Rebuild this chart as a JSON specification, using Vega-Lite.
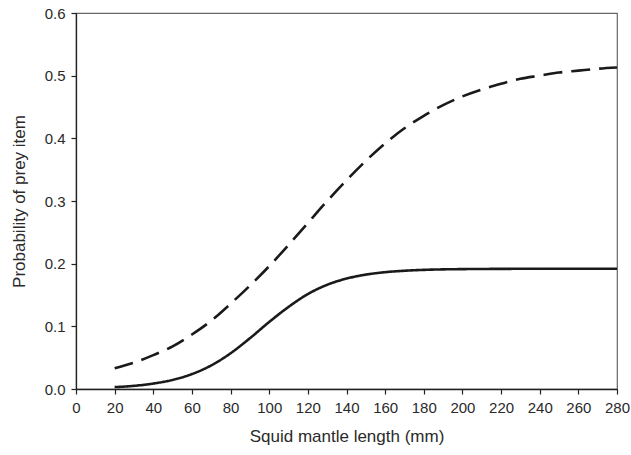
{
  "$schema": "https://vega.github.io/schema/vega-lite/v6.json",
  "width": 541,
  "height": 376,
  "autosize": {"type": "none"},
  "padding": {"left": 76, "top": 13, "right": 14, "bottom": 66},
  "background": "white",
  "config": {
    "view": {"stroke": "#666", "strokeWidth": 1.2},
    "font": "Liberation Sans",
    "axis": {
      "grid": false,
      "labelFont": "Liberation Sans",
      "titleFont": "Liberation Sans",
      "labelFontSize": 15,
      "titleFontSize": 17,
      "titleFontWeight": "normal",
      "labelColor": "#2a2a2a",
      "titleColor": "#2a2a2a",
      "domainColor": "#222",
      "tickColor": "#222",
      "domainWidth": 1.3,
      "tickWidth": 1.2,
      "tickSize": 5
    }
  },
  "data": {
    "values": [
      {"length": 20, "prob": 0.033, "series": "Prey 1"},
      {"length": 30, "prob": 0.042, "series": "Prey 1"},
      {"length": 40, "prob": 0.054, "series": "Prey 1"},
      {"length": 50, "prob": 0.068, "series": "Prey 1"},
      {"length": 60, "prob": 0.087, "series": "Prey 1"},
      {"length": 70, "prob": 0.109, "series": "Prey 1"},
      {"length": 80, "prob": 0.136, "series": "Prey 1"},
      {"length": 90, "prob": 0.165, "series": "Prey 1"},
      {"length": 100, "prob": 0.196, "series": "Prey 1"},
      {"length": 110, "prob": 0.230, "series": "Prey 1"},
      {"length": 120, "prob": 0.265, "series": "Prey 1"},
      {"length": 130, "prob": 0.300, "series": "Prey 1"},
      {"length": 140, "prob": 0.333, "series": "Prey 1"},
      {"length": 150, "prob": 0.364, "series": "Prey 1"},
      {"length": 160, "prob": 0.392, "series": "Prey 1"},
      {"length": 170, "prob": 0.416, "series": "Prey 1"},
      {"length": 180, "prob": 0.436, "series": "Prey 1"},
      {"length": 190, "prob": 0.453, "series": "Prey 1"},
      {"length": 200, "prob": 0.467, "series": "Prey 1"},
      {"length": 210, "prob": 0.478, "series": "Prey 1"},
      {"length": 220, "prob": 0.487, "series": "Prey 1"},
      {"length": 230, "prob": 0.495, "series": "Prey 1"},
      {"length": 240, "prob": 0.500, "series": "Prey 1"},
      {"length": 250, "prob": 0.505, "series": "Prey 1"},
      {"length": 260, "prob": 0.508, "series": "Prey 1"},
      {"length": 270, "prob": 0.511, "series": "Prey 1"},
      {"length": 280, "prob": 0.513, "series": "Prey 1"},
      {"length": 20, "prob": 0.003, "series": "Prey 2"},
      {"length": 30, "prob": 0.005, "series": "Prey 2"},
      {"length": 40, "prob": 0.0087, "series": "Prey 2"},
      {"length": 50, "prob": 0.0145, "series": "Prey 2"},
      {"length": 60, "prob": 0.0238, "series": "Prey 2"},
      {"length": 70, "prob": 0.0377, "series": "Prey 2"},
      {"length": 80, "prob": 0.057, "series": "Prey 2"},
      {"length": 90, "prob": 0.081, "series": "Prey 2"},
      {"length": 100, "prob": 0.107, "series": "Prey 2"},
      {"length": 110, "prob": 0.131, "series": "Prey 2"},
      {"length": 120, "prob": 0.1515, "series": "Prey 2"},
      {"length": 130, "prob": 0.1663, "series": "Prey 2"},
      {"length": 140, "prob": 0.1762, "series": "Prey 2"},
      {"length": 150, "prob": 0.1825, "series": "Prey 2"},
      {"length": 160, "prob": 0.1864, "series": "Prey 2"},
      {"length": 170, "prob": 0.1887, "series": "Prey 2"},
      {"length": 180, "prob": 0.1901, "series": "Prey 2"},
      {"length": 190, "prob": 0.1909, "series": "Prey 2"},
      {"length": 200, "prob": 0.1913, "series": "Prey 2"},
      {"length": 220, "prob": 0.1917, "series": "Prey 2"},
      {"length": 240, "prob": 0.1919, "series": "Prey 2"},
      {"length": 260, "prob": 0.192, "series": "Prey 2"},
      {"length": 280, "prob": 0.192, "series": "Prey 2"}
    ]
  },
  "mark": {"type": "line", "strokeWidth": 2.6, "color": "#1a1a1a", "interpolate": "monotone"},
  "encoding": {
    "x": {
      "field": "length",
      "type": "quantitative",
      "scale": {"domain": [0, 280], "nice": false, "zero": true},
      "axis": {
        "title": "Squid mantle length (mm)",
        "values": [0, 20, 40, 60, 80, 100, 120, 140, 160, 180, 200, 220, 240, 260, 280],
        "labelPadding": 6,
        "titlePadding": 13,
        "labelFlush": false,
        "labelOverlap": false
      }
    },
    "y": {
      "field": "prob",
      "type": "quantitative",
      "scale": {"domain": [0, 0.6], "nice": false},
      "axis": {
        "title": "Probability of prey item",
        "values": [0, 0.1, 0.2, 0.3, 0.4, 0.5, 0.6],
        "format": ".1f",
        "labelPadding": 6,
        "titlePadding": 16,
        "labelFlush": false,
        "labelOverlap": false
      }
    },
    "strokeDash": {
      "field": "series",
      "type": "nominal",
      "scale": {"domain": ["Prey 1", "Prey 2"], "range": [[19, 9], [1, 0]]},
      "legend": null
    }
  }
}
